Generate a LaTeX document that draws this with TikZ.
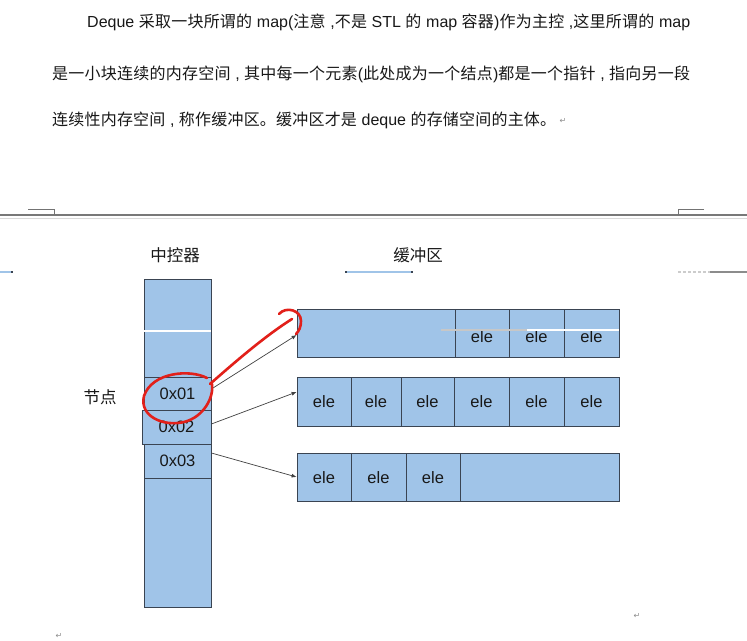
\documentclass[tikz,border=0pt]{standalone}
\usepackage{fontspec}
\setmainfont{Liberation Sans}
\newfontfamily\cjk{Noto Sans CJK SC}
\newfontfamily\symfont{DejaVu Sans}
\usetikzlibrary{arrows.meta}

\definecolor{cellfill}{RGB}{160,196,232}
\definecolor{cellline}{RGB}{58,68,82}
\definecolor{ink}{RGB}{24,24,24}
\definecolor{markred}{RGB}{226,32,26}
\definecolor{rulegray}{RGB}{120,120,120}

% Chinese run: every ideograph is followed by stretchable glue so that a
% line set in \hbox to <width> is justified the way a word processor does it.
\makeatletter
\def\zh#1{{\cjk\zh@loop#1\@nil}}
\def\zh@loop#1{\ifx\@nil#1\else#1\hskip0pt plus 1fil minus 0.4pt\expandafter\zh@loop\fi}
\makeatother

\tikzset{
  bodytext/.style={anchor=base west, inner sep=0pt, text=ink, font=\fontsize{16}{19}\selectfont},
  caption/.style={inner sep=0pt, text=ink, font=\cjk\fontsize{16.5}{19}\selectfont},
  buf/.style={rectangle, inner sep=0pt, fill=cellfill, draw=cellline, line width=0.8pt},
  cell/.style={buf, text=ink, font=\fontsize{16.5}{19}\selectfont},
  celltext/.style={inner sep=0pt, text=ink, font=\fontsize{16.5}{19}\selectfont},
  ptr/.style={draw=black!75, line width=0.7pt, -{Latex[length=5pt,width=4pt]}},
  redmark/.style={draw=markred, line width=2.6pt, line cap=round, line join=round},
  retmark/.style={inner sep=0pt, text=black!45, font=\symfont\fontsize{8}{9}\selectfont},
}

\begin{document}
\begin{tikzpicture}[x=1pt, y=-1pt]
\useasboundingbox (0,0) rectangle (747,640);
\fill[white] (0,0) rectangle (747,640);

% ---- paragraph -------------------------------------------------------
\node[bodytext] (l1) at (87,27) {\hbox to 603pt{Deque \zh{采取一块所谓的} map(\zh{注意} ,\zh{不是} STL \zh{的} map \zh{容器})\zh{作为主控} ,\zh{这里所谓的} map}};
\node[bodytext] (l2) at (52,79) {\hbox to 638pt{\zh{是一小块连续的内存空间} , \zh{其中每一个元素}(\zh{此处成为一个结点})\zh{都是一个指针} , \zh{指向另一段}\unskip}};
\node[bodytext] (l3) at (52,125) {\hbox to 504pt{\zh{连续性内存空间} , \zh{称作缓冲区。缓冲区才是} deque \zh{的存储空间的主体。}\unskip}};
\node[retmark] (r1mark) at (563,121) {↵};

% ---- page break rule ---------------------------------------------------
\draw[rulegray, line width=1.3pt] (0,215) -- (747,215);
\draw[black!15, line width=0.8pt] (0,218.5) -- (747,218.5);
\draw[black!55, line width=0.7pt] (28,209) -- (54,209) -- (54,215);
\draw[black!55, line width=0.7pt] (704,209) -- (678,209) -- (678,215);

% ---- captions ------------------------------------------------------------
\node[caption] (capmap) at (175,255) {中控器};
\node[caption] (capbuf) at (418,255) {缓冲区};
\node[caption] (capnode) at (100,397) {节点};

% small bars under the captions
\draw[cellfill, line width=2.2pt] (0,272) -- (12,272);
\fill[cellline] (11,270.6) rectangle (13,273.4);
\draw[cellfill, line width=2.2pt] (346,272) -- (412,272);
\fill[cellline] (345,270.6) rectangle (347,273.4);
\fill[cellline] (411,270.6) rectangle (413,273.4);
\draw[black!20, line width=1.6pt, dash pattern=on 3pt off 2pt] (678,272) -- (710,272);
\draw[black!45, line width=2.2pt] (710,272) -- (747,272);

% ---- the map (controller) ------------------------------------------------
\node[buf, minimum width=67pt, minimum height=328pt] (map) at (177.5,443) {};
\node[cell, minimum width=67pt, minimum height=34pt] (m1) at (177.5,394) {0x01};
\node[cell, minimum width=69pt, minimum height=34pt] (m2) at (176.5,427) {0x02};
\node[cell, minimum width=67pt, minimum height=34pt] (m3) at (177.5,461) {0x03};
\draw[white, line width=2.6pt] (map.west |- 0,331) -- (map.east |- 0,331);

% ---- buffers -------------------------------------------------------------
\node[buf, minimum width=322pt, minimum height=48pt] (b1) at (458,333) {};
\node[cell, minimum width=54pt, minimum height=48pt] (b1c4) at (482,333) {};
\node[cell, minimum width=55pt, minimum height=48pt] (b1c5) at (536.5,333) {};
\node[cell, minimum width=55pt, minimum height=48pt] (b1c6) at (591.5,333) {};
\node[celltext] (b1t4) at ([yshift=-4pt]b1c4.center) {ele};
\node[celltext] (b1t5) at ([yshift=-4pt]b1c5.center) {ele};
\node[celltext] (b1t6) at ([yshift=-4pt]b1c6.center) {ele};
\draw[black!22, line width=2.6pt] (441,330) -- (527,330);
\draw[white, line width=2.6pt] (527,330) -- (b1.east |- 0,330);

\node[buf, minimum width=322pt, minimum height=49pt] (b2) at (458,401.5) {};
\node[cell, minimum width=54pt, minimum height=49pt] (b2c1) at (324,401.5) {ele};
\node[cell, minimum width=50pt, minimum height=49pt] (b2c2) at (376,401.5) {ele};
\node[cell, minimum width=53pt, minimum height=49pt] (b2c3) at (427.5,401.5) {ele};
\node[cell, minimum width=55pt, minimum height=49pt] (b2c4) at (481.5,401.5) {ele};
\node[cell, minimum width=55pt, minimum height=49pt] (b2c5) at (536.5,401.5) {ele};
\node[cell, minimum width=55pt, minimum height=49pt] (b2c6) at (591.5,401.5) {ele};

\node[buf, minimum width=322pt, minimum height=48.5pt] (b3) at (458,477.5) {};
\node[cell, minimum width=54pt, minimum height=48.5pt] (b3c1) at (324,477.5) {ele};
\node[cell, minimum width=55pt, minimum height=48.5pt] (b3c2) at (378.5,477.5) {ele};
\node[cell, minimum width=54pt, minimum height=48.5pt] (b3c3) at (433,477.5) {ele};

% ---- pointers from map nodes to buffers ----------------------------------
\draw[ptr] ([yshift=5pt]m1.east) -- ([yshift=-2pt]b1.west);
\draw[ptr] ([yshift=3pt]m2.east) -- ([yshift=9.5pt]b2.west);
\draw[ptr] ([yshift=8pt]m3.east) -- ([yshift=0.5pt]b3.west);

% ---- hand-drawn red marking ----------------------------------------------
\draw[redmark] (207,378) .. controls (190,369) and (152,372) .. (144,396)
  .. controls (139,416) and (163,427) .. (184,422)
  .. controls (204,417) and (214,397) .. (212,384);
\draw[redmark] (210,384) .. controls (235,362) and (265,336) .. (292,319);
\draw[redmark] (279,314) .. controls (286,306) and (301,310) .. (301,321)
  .. controls (301,327) and (299,331) .. (296,334);

% ---- paragraph marks below -----------------------------------------------
\node[retmark] (r2mark) at (637,616) {↵};
\node[retmark] (r3mark) at (59,636) {↵};
\end{tikzpicture}
\end{document}
